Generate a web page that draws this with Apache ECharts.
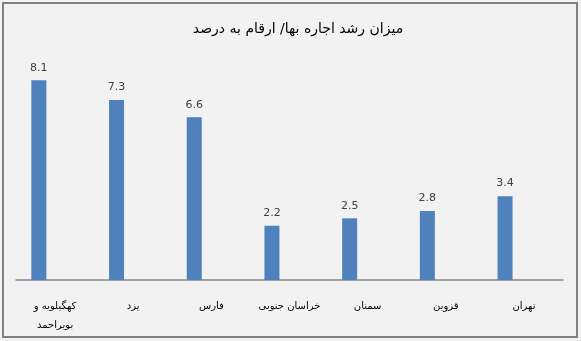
<!DOCTYPE html>
<html><head><meta charset="utf-8">
<script src="https://cdn.jsdelivr.net/npm/echarts@6/dist/echarts.min.js"></script>
<style>html,body{margin:0;padding:0;background:#f2f2f2}#c{width:581px;height:341px}</style>
</head><body><div id="c"></div>
<script>
var titleText = 'میزان رشد اجاره بها/ ارقام به درصد';
var categories = ['کهگیلویه و\nبویراحمد', 'یزد', 'فارس', 'خراسان جنوبی', 'سمنان', 'قزوین', 'تهران'];
var values = [8.1, 7.3, 6.6, 2.2, 2.5, 2.8, 3.4];

var chart = echarts.init(document.getElementById('c'), null, {renderer: 'canvas'});
chart.setOption({
  backgroundColor: '#f2f2f2',
  animation: false,
  title: {
    text: titleText, left: 293, top: 17, textAlign: 'center',
    textStyle: {fontFamily: 'DejaVu Sans', fontSize: 14, fontWeight: 'normal', color: '#000'}
  },
  graphic: [{
    type: 'rect', z: 100, silent: true,
    shape: {x: 3, y: 3, width: 574, height: 334},
    style: {fill: null, stroke: '#808080', lineWidth: 2}
  }],
  grid: [
    {left: -3.6, width: 547.5, top: 58, height: 222},
    {left: 16, width: 547, top: 58, height: 222}
  ],
  xAxis: [
    {type: 'category', gridIndex: 0, data: categories, axisLine: {show: false}, axisTick: {show: false}, axisLabel: {show: false}},
    {type: 'category', gridIndex: 1, data: categories,
     axisLine: {show: true, lineStyle: {color: '#868686', width: 1.5}}, axisTick: {show: false},
     axisLabel: {interval: 0, margin: 17, fontFamily: 'DejaVu Sans', fontSize: 10, color: '#000', lineHeight: 19}}
  ],
  yAxis: [
    {type: 'value', gridIndex: 0, min: 0, max: 9, show: false, splitLine: {show: false}},
    {type: 'value', gridIndex: 1, min: 0, max: 9, show: false, splitLine: {show: false}}
  ],
  series: [{
    type: 'bar', xAxisIndex: 0, yAxisIndex: 0, data: values, barWidth: 15,
    itemStyle: {color: '#4f81bd'},
    label: {show: true, position: 'top', distance: 7, fontFamily: 'DejaVu Sans', fontSize: 11, color: '#404040'}
  }]
});
</script></body></html>
